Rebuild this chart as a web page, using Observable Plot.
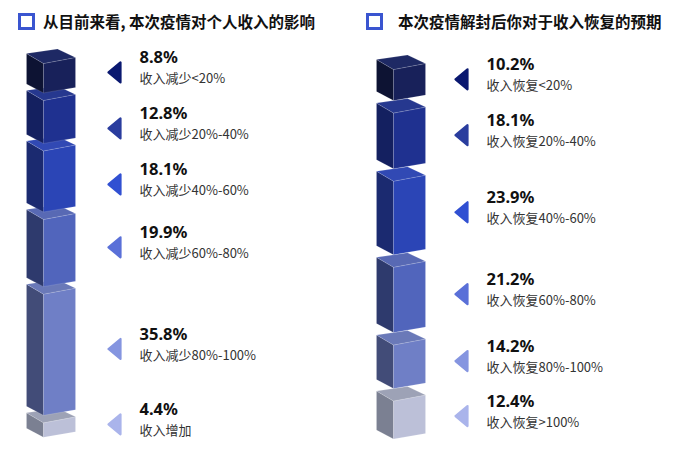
<!DOCTYPE html>
<html><head><meta charset="utf-8">
<script src="https://cdn.jsdelivr.net/npm/d3@7"></script>
<script src="https://cdn.jsdelivr.net/npm/@observablehq/plot@0.6"></script>
<style>
body{margin:0;background:#fff;}
#wrap{position:relative;width:673px;height:450px;overflow:hidden;font-family:"Noto Sans CJK SC","Noto Sans",sans-serif;}
.panel{position:absolute;top:0;}
.title{position:absolute;top:13px;font-weight:700;font-size:15.5px;line-height:17px;color:#111;white-space:nowrap;}
.box{position:absolute;top:13px;width:11px;height:11px;border:3px solid #3a55d0;}
</style></head><body>
<div id="wrap"></div>
<script>
// ---- data ----
const leftTitle = "从目前来看, 本次疫情对个人收入的影响";
const leftCategories = ["收入减少<20%", "收入减少20%-40%", "收入减少40%-60%", "收入减少60%-80%", "收入减少80%-100%", "收入增加"];
const leftValues = [8.8, 12.8, 18.1, 19.9, 35.8, 4.4];

const rightTitle = "本次疫情解封后你对于收入恢复的预期";
const rightCategories = ["收入恢复<20%", "收入恢复20%-40%", "收入恢复40%-60%", "收入恢复60%-80%", "收入恢复80%-100%", "收入恢复>100%"];
const rightValues = [10.2, 18.1, 23.9, 21.2, 14.2, 12.4];

// ---- styles ----
const frontColors = ["#18215a", "#1f3190", "#2b45b6", "#5165bc", "#6f7fc6", "#bcc0d8"];
const sideColors  = ["#0d1333", "#142060", "#1b2a70", "#2e3a6d", "#424c78", "#7b8092"];
const topColors   = ["#1e2964", "#26388f", "#3149b4", "#5869b4", "#6a79b8", "#9da2b6"];
const markerColors = ["#0a1870", "#2a3d9e", "#3150d2", "#5a70d8", "#8595e0", "#aab4eb"];

function buildPanel(categories, values, cfg) {
  const k = cfg.k;
  const u = px => px / k;            // pixel offset -> value units
  const gap = u(cfg.gapPx);
  let acc = 0;
  const segs = values.map((v, i) => {
    const s = {i, cat: categories[i], v, y0: acc, y1: acc + v};
    acc += v + gap;
    return s;
  });
  const D = acc - gap;

  // cube geometry (pixels along x)
  const dx = cfg.cubeDx;
  const xL = 26 + dx, xM = 43 + dx, xB = 57 + dx, xR = 75 + dx;
  const faces = [];
  const poly = (pts, id, fill) => {
    [...pts, pts[0]].forEach(([x, y]) => faces.push({x, y, z: id, fill}));
  };
  for (const s of [...segs].reverse()) {
    const i = s.i;
    poly([[xL, s.y0 - u(4)], [xM, s.y0 + u(6)], [xM, s.y1 + u(5.5)], [xL, s.y1 - u(3.5)]], i + "L", sideColors[i]);
    poly([[xM, s.y0 + u(6)], [xR, s.y0], [xR, s.y1], [xM, s.y1 + u(5.5)]], i + "F", frontColors[i]);
    poly([[xL, s.y0 - u(4)], [xB, s.y0 - u(8.5)], [xR, s.y0], [xM, s.y0 + u(6)]], i + "T", topColors[i]);
  }

  // label positions: segment centres, pushed down to keep a minimum spacing
  const labels = [];
  segs.forEach((s, j) => {
    let c = (s.y0 + s.y1) / 2;
    if (j > 0) c = Math.max(c, labels[j - 1].c + u(cfg.spacingPx));
    labels.push({...s, c, pct: s.v.toFixed(1) + "%", color: markerColors[s.i]});
  });
  const tri = [];
  labels.forEach(l => {
    [[108, l.c], [120, l.c - u(10)], [120, l.c + u(10)], [108, l.c]].forEach(([x, y]) => tri.push({x, y, z: l.i, fill: l.color}));
  });

  return Plot.plot({
    width: cfg.width, height: 450, margin: 0,
    x: {type: "identity", axis: null},
    y: {domain: [0, D], range: [cfg.top, cfg.top + D * k], axis: null},
    color: {type: "identity"},
    style: {background: "transparent", overflow: "visible"},
    marks: [
      Plot.line(faces, {x: "x", y: "y", z: "z", fill: "fill", stroke: "rgba(255,255,255,0.22)", strokeWidth: 0.6, curve: "linear"}),
      Plot.line(tri, {x: "x", y: "y", z: "z", fill: "fill", stroke: "fill", strokeWidth: 2.2, strokeLinejoin: "round", curve: "linear"}),
      Plot.text(labels, {x: () => 139, y: "c", text: "pct", dy: -9, textAnchor: "start", lineAnchor: "bottom",
        fontSize: 16.5, fontWeight: 700, fill: "#111", fontFamily: "Noto Sans, sans-serif"}),
      Plot.text(labels, {x: () => 139, y: "c", text: "cat", dy: 11, textAnchor: "start", lineAnchor: "bottom",
        fontSize: 13, fill: "#333", fontFamily: "Noto Sans CJK SC, Noto Sans, sans-serif"})
    ]
  });
}

const wrap = document.getElementById("wrap");
function addPanel(left, title, svg, boxLeft, titleLeft) {
  const p = document.createElement("div");
  p.className = "panel"; p.style.left = left + "px";
  p.appendChild(svg);
  wrap.appendChild(p);
  const b = document.createElement("div"); b.className = "box"; b.style.left = boxLeft + "px"; wrap.appendChild(b);
  const t = document.createElement("div"); t.className = "title"; t.style.left = titleLeft + "px"; t.textContent = title; wrap.appendChild(t);
}
addPanel(0, leftTitle, buildPanel(leftCategories, leftValues, {k: 3.4, gapPx: 7, top: 57, spacingPx: 56, width: 347, cubeDx: 0}), 18, 43);
addPanel(347, rightTitle, buildPanel(rightCategories, rightValues, {k: 3.1, gapPx: 12, top: 63, spacingPx: 55, width: 326, cubeDx: 3}), 366, 398);
</script>
</body></html>
